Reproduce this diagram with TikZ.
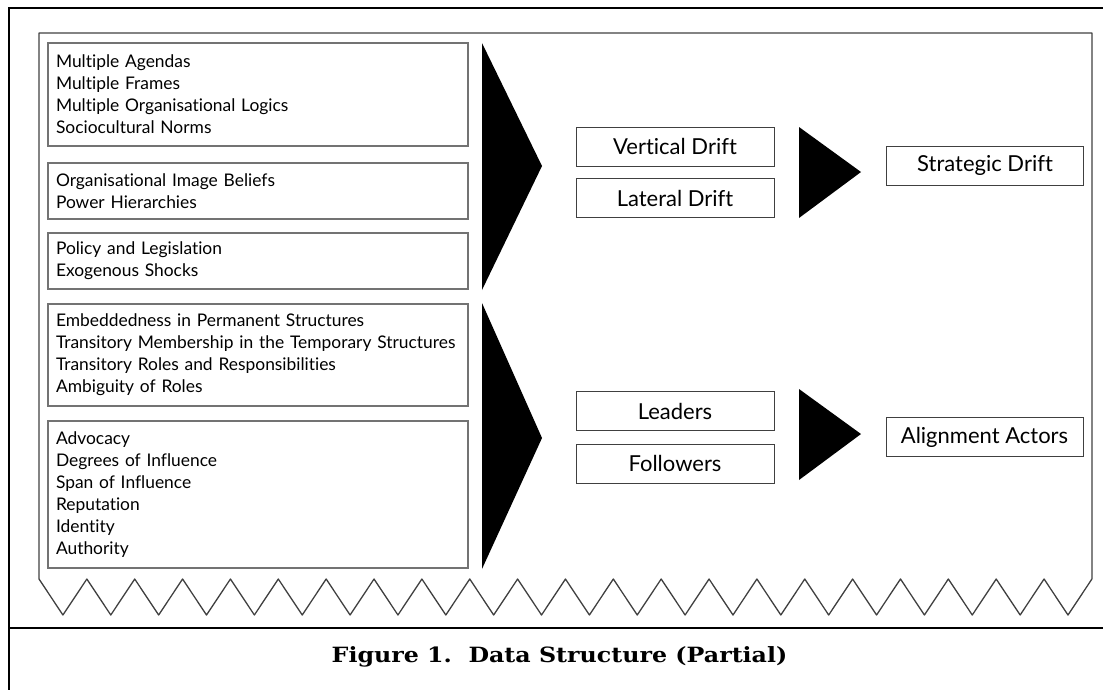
\documentclass[tikz,border=0pt]{standalone}
\usepackage{fontspec}
\setmainfont{Lato}[Ligatures=NoCommon]
\newfontfamily\capfont{DejaVu Serif}[FakeStretch=1.13]
\begin{document}
\begin{tikzpicture}[x=1pt,y=-1pt,
    listbox/.style={draw=black!55, line width=1.5pt, inner sep=0pt,
      minimum width=420pt, text width=404pt, align=left,
      font=\fontsize{17.4}{22}\selectfont},
    driftbox/.style={draw=black!75, line width=1pt, inner sep=0pt,
      minimum width=198pt, minimum height=39pt,
      font=\fontsize{22}{24}\selectfont},
    wedge/.style={fill=black}]
  \useasboundingbox (0,0) rectangle (1103,689);
  % page frame and caption rule
  \draw[line width=2.6pt] (9,700) -- (9,8) -- (1115,8);
  \draw[line width=2.6pt] (9,628) -- (1115,628);
  % torn sheet
  \draw[black!75, line width=1.3pt, line join=round]
    (1092,579) -- (1092,33) -- (39,33) -- (39,579)
    \foreach \i in {0,...,21} {-- ({62.93+47.86*\i},615) -- ({86.86+47.86*\i},579)};
  % left column
  \node[listbox, minimum height=103pt] (agendas) at (258,94.5)
    {Multiple Agendas\\Multiple Frames\\Multiple Organisational Logics\\Sociocultural Norms};
  \node[listbox, minimum height=56pt] (image) at (258,191)
    {Organisational Image Beliefs\\Power Hierarchies};
  \node[listbox, minimum height=56pt] (policy) at (258,261)
    {Policy and Legislation\\Exogenous Shocks};
  \node[listbox, minimum height=102pt] (embedded) at (258,355)
    {Embeddedness in Permanent Structures\\Transitory Membership in the Temporary Structures\\Transitory Roles and Responsibilities\\Ambiguity of Roles};
  \node[listbox, minimum height=147pt] (advocacy) at (258,494.5)
    {Advocacy\\Degrees of Influence\\Span of Influence\\Reputation\\Identity\\Authority};
  \fill[wedge] (482,43) -- (542,166) -- (482,290) -- cycle;
  \fill[wedge] (482,303) -- (542,438) -- (482,569) -- cycle;
  % middle column
  \node[driftbox] (vertical) at (675,146.5) {Vertical Drift};
  \node[driftbox] (lateral) at (675,198) {Lateral Drift};
  \node[driftbox] (leaders) at (675,411) {Leaders};
  \node[driftbox] (followers) at (675,463.5) {Followers};
  \fill[wedge] (799,127) -- (861,172) -- (799,218) -- cycle;
  \fill[wedge] (799,389) -- (861,434) -- (799,480) -- cycle;
  % right column
  \node[driftbox, minimum width=197pt] (strategic) at (985,165.5) {Strategic Drift};
  \node[driftbox, minimum width=197pt] (alignment) at (984.5,437) {Alignment Actors};
  \node[font=\capfont\bfseries\fontsize{21}{24}\selectfont] (caption) at (559.5,657)
    {Figure 1.\ \ Data Structure (Partial)};
\end{tikzpicture}
\end{document}
